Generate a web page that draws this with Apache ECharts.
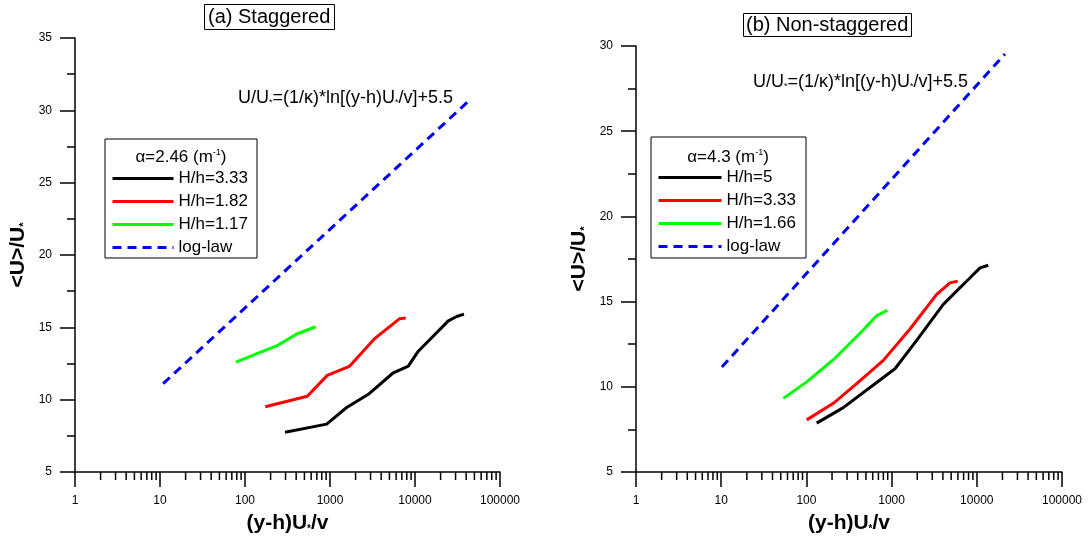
<!DOCTYPE html>
<html>
<head>
<meta charset="utf-8">
<script src="https://cdn.jsdelivr.net/npm/echarts@6/dist/echarts.min.js"></script>
<style>
html,body{margin:0;padding:0;background:#fff;}
#chart{width:1089px;height:539px;}
</style>
</head>
<body>
<div id="chart"></div>
<script>
// ---------- data (x = (y-h)U*/v, y = <U>/U*) ----------
const stagBlack = [[296,7.75],[914,8.31],[1571,9.46],[2825,10.37],[5560,11.86],[8340,12.32],[10940,13.35],[24660,15.45],[30970,15.75],[37700,15.91]];
const stagRed   = [[173,9.51],[541,10.24],[929,11.68],[1687,12.30],[3295,14.18],[6540,15.59],[7780,15.64]];
const stagGreen = [[78,12.6],[243,13.76],[406,14.54],[679,15.04]];
const stagLog   = [[10.9,11.11],[42000,30.6]];

const nonBlack = [[132,7.87],[271,8.78],[510,9.81],[1096,11.06],[1969,12.72],[4040,14.84],[6070,15.72],[7960,16.30],[10900,16.98],[13650,17.13]];
const nonRed   = [[101,8.06],[207,9.03],[389,10.19],[800,11.55],[1644,13.39],[3380,15.42],[4840,16.10],[5970,16.20]];
const nonGreen = [[53.6,9.32],[101,10.29],[207,11.59],[426,13.14],[668,14.17],[891,14.49]];
const nonLog   = [[10.2,11.16],[21400,29.53]];

const stagLabels = ['H/h=3.33','H/h=1.82','H/h=1.17','log-law'];
const nonLabels  = ['H/h=5','H/h=3.33','H/h=1.66','log-law'];
const titles = ['(a) Staggered','(b) Non-staggered'];
const alphaText = ['2.46','4.3'];
const decades = [1,10,100,1000,10000];
const minorMult = [2,3,4,5,6,7,8,9];
const yRanges = [[5,35],[5,30]];

// ---------- chart ----------
const FONT = 'Arial, "Liberation Sans", sans-serif';
const chart = echarts.init(document.getElementById('chart'), null, {renderer:'canvas'});

const minorTicks = [];
decades.forEach(d => minorMult.forEach(m => minorTicks.push(d*m)));

function xAxis(gi){
  return {
    type:'log', logBase:10, min:1, max:100000, gridIndex:gi,
    axisLine:{lineStyle:{color:'#000',width:1.5}},
    axisTick:{inside:false,length:15,lineStyle:{color:'#000',width:1.5}},
    axisLabel:{color:'#000',fontSize:12,fontFamily:FONT,margin:23,
      formatter:v=>String(Math.round(v))},
    splitLine:{show:false},
    name:'{n|(y-h)U}{s|*}{n|/v}', nameLocation:'middle', nameGap:41,
    nameTextStyle:{rich:{
      n:{fontSize:21,fontWeight:'bold',fontFamily:FONT,color:'#000'},
      s:{fontSize:10,fontWeight:'bold',fontFamily:FONT,color:'#000',verticalAlign:'bottom'}
    }}
  };
}
function yAxis(gi){
  return {
    type:'value', min:yRanges[gi][0], max:yRanges[gi][1], interval:5, gridIndex:gi,
    axisLine:{show:true,lineStyle:{color:'#000',width:1.5}},
    axisTick:{show:true,inside:false,length:15,lineStyle:{color:'#000',width:1.5}},
    minorTick:{show:true,splitNumber:2,length:8,lineStyle:{color:'#000',width:1.5}},
    axisLabel:{color:'#000',fontSize:12,fontFamily:FONT,margin:23},
    splitLine:{show:false},
    name:'{n|<U>/U}{s|*}', nameLocation:'middle', nameGap:46, nameRotate:90,
    nameTextStyle:{rich:{
      n:{fontSize:21,fontWeight:'bold',fontFamily:FONT,color:'#000'},
      s:{fontSize:11,fontWeight:'bold',fontFamily:FONT,color:'#000',verticalAlign:'bottom'}
    }}
  };
}
function line(name,data,color,gi,dashed){
  return {type:'line',name,data,xAxisIndex:gi,yAxisIndex:gi,symbol:'none',
    lineStyle:{color,width:3,type:dashed?[9,6]:'solid'},itemStyle:{color},
    z:3,animation:false};
}
function minorSeries(gi){
  return {type:'custom',xAxisIndex:gi,yAxisIndex:gi,clip:false,silent:true,
    data:minorTicks.map(v=>[v,yRanges[gi][0]]),
    renderItem:(params,api)=>{
      const p = api.coord([api.value(0),api.value(1)]);
      return {type:'line',shape:{x1:p[0],y1:p[1],x2:p[0],y2:p[1]+8},
        style:{stroke:'#000',lineWidth:1.5}};
    }};
}
const richEq = {
  n:{fontSize:18,fontFamily:FONT,fill:'#000'},
  s:{fontSize:9,fontFamily:FONT,fill:'#000',verticalAlign:'bottom'}
};
const richAlpha = {
  n:{fontSize:17,fontFamily:FONT,fill:'#000'},
  s:{fontSize:9,fontFamily:FONT,fill:'#000',verticalAlign:'top'}
};
const eqStr = '{n|U/U}{s|*}{n|=(1/κ)*ln[(y-h)U}{s|*}{n|/v]+5.5}';

function legendOpt(names,labels,left,top,w){
  return {data:names,orient:'vertical',left,top,padding:0,
     itemWidth:w,itemHeight:14,itemGap:6,selectedMode:false,
     itemStyle:{opacity:0},
     lineStyle:{width:3},
     formatter:n=>labels[names.indexOf(n)],
     textStyle:{fontSize:17,fontFamily:FONT,color:'#000',lineHeight:14}};
}

chart.setOption({
  animation:false,
  backgroundColor:'#fff',
  title:[
    {text:titles[0],left:204,top:4,borderWidth:1,borderColor:'#000',padding:[3,4],
     textStyle:{fontSize:20,fontWeight:'normal',color:'#000',fontFamily:FONT}},
    {text:titles[1],left:743,top:13,borderWidth:1,borderColor:'#000',padding:[2,3],
     textStyle:{fontSize:20,fontWeight:'normal',color:'#000',fontFamily:FONT}}
  ],
  grid:[
    {left:75,top:38,width:425,height:437},
    {left:636,top:46,width:426,height:430}
  ],
  xAxis:[xAxis(0),xAxis(1)],
  yAxis:[yAxis(0),yAxis(1)],
  legend:[
    legendOpt(['a1','a2','a3','a4'],stagLabels,111,170,61),
    legendOpt(['b1','b2','b3','b4'],nonLabels,657,169,63)
  ],
  graphic:[
    {type:'rect',shape:{x:105,y:139,width:152,height:119},style:{fill:'#fff',stroke:'#000',lineWidth:1},z:1},
    {type:'rect',shape:{x:651,y:137,width:155,height:121},style:{fill:'#fff',stroke:'#000',lineWidth:1},z:1},
    {type:'text',x:181,y:157,z:5,style:{text:'{n|α='+alphaText[0]+' (m}{s|-1}{n|)}',rich:richAlpha,align:'center',verticalAlign:'middle'}},
    {type:'text',x:728,y:157,z:5,style:{text:'{n|α='+alphaText[1]+' (m}{s|-1}{n|)}',rich:richAlpha,align:'center',verticalAlign:'middle'}},
    {type:'text',x:238,y:98,z:5,style:{text:eqStr,rich:richEq,align:'left',verticalAlign:'middle'}},
    {type:'text',x:753,y:82,z:5,style:{text:eqStr,rich:richEq,align:'left',verticalAlign:'middle'}}
  ],
  series:[
    line('a1',stagBlack,'#000000',0,false),
    line('a2',stagRed,'#ff0000',0,false),
    line('a3',stagGreen,'#00ff00',0,false),
    line('a4',stagLog,'#0000ff',0,true),
    line('b1',nonBlack,'#000000',1,false),
    line('b2',nonRed,'#ff0000',1,false),
    line('b3',nonGreen,'#00ff00',1,false),
    line('b4',nonLog,'#0000ff',1,true),
    minorSeries(0),
    minorSeries(1)
  ]
});
</script>
</body>
</html>
